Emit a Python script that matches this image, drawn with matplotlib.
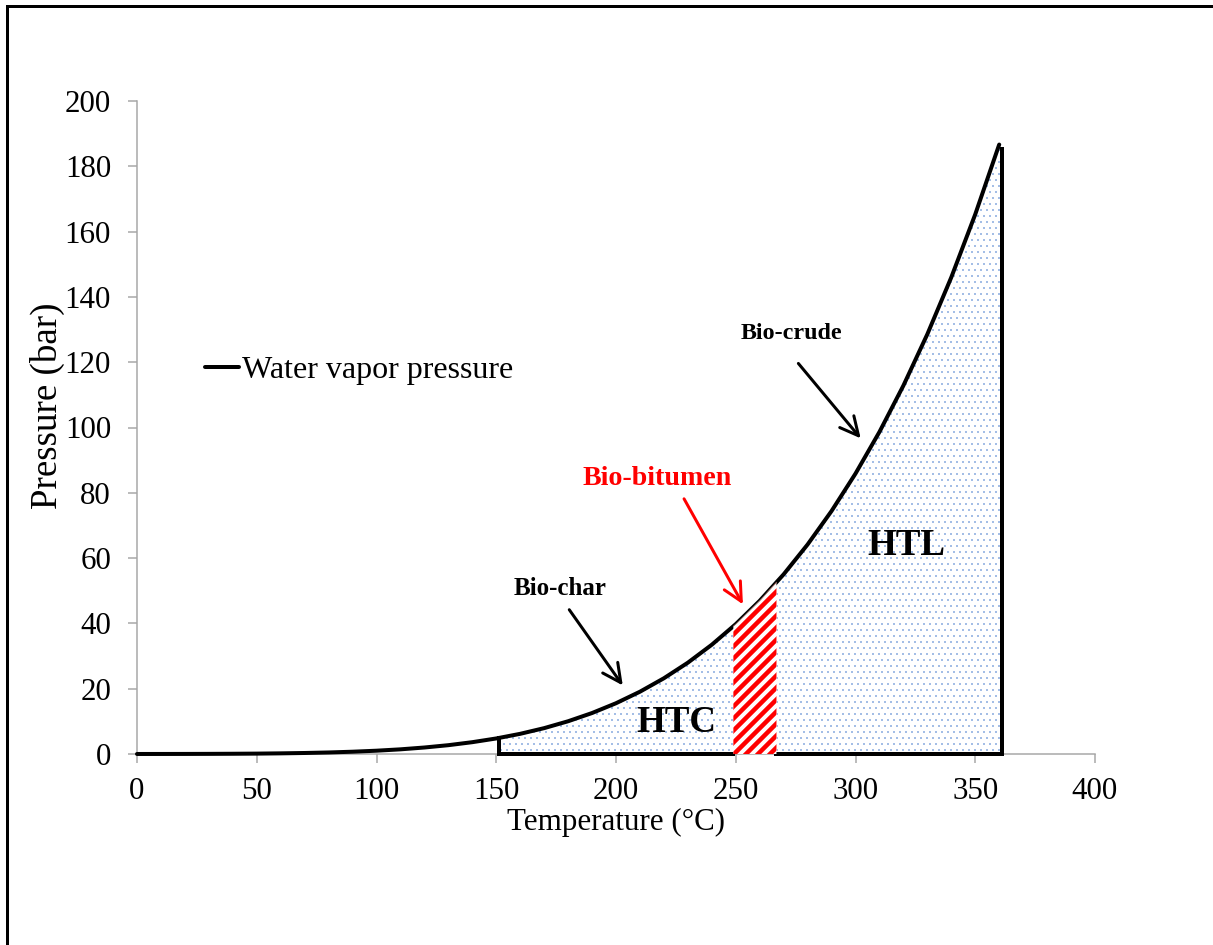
import numpy as np
import matplotlib
matplotlib.use("Agg")
import matplotlib.pyplot as plt
from matplotlib.patches import Rectangle

plt.rcParams['font.family'] = ['Liberation Serif', 'DejaVu Serif']

# saturation pressure of water (bar) vs temperature (C)
temp = [0, 10, 20, 30, 40, 50, 60, 70, 80, 90, 100, 110, 120, 130, 140, 150,
        160, 170, 180, 190, 200, 210, 220, 230, 240, 250, 260, 270, 280, 290,
        300, 310, 320, 330, 340, 350, 360]
pressure = [0.006, 0.012, 0.023, 0.042, 0.074, 0.12, 0.20, 0.31, 0.47, 0.70,
            1.01, 1.43, 1.99, 2.70, 3.62, 4.76, 6.18, 7.92, 10.03, 12.55,
            15.55, 19.08, 23.20, 27.97, 33.47, 39.76, 46.92, 55.03, 64.17,
            74.42, 85.88, 98.65, 112.84, 128.58, 146.00, 165.29, 186.66]

htc_range = (151, 249)
bitumen_range = (249, 267)
htl_range = (267, 361)

xticks = [0, 50, 100, 150, 200, 250, 300, 350, 400]
yticks = [0, 20, 40, 60, 80, 100, 120, 140, 160, 180, 200]

dot_color = '#6f98d8'
gray = '#a6a6a6'

fig = plt.figure(figsize=(1213 / 72, 945 / 72), dpi=72)
ax = fig.add_axes([137 / 1213, 1 - 754 / 945, 958 / 1213, 653 / 945])


def region(lo, hi, n=200):
    xs = np.linspace(lo, hi, n)
    return xs, np.interp(xs, temp, pressure)


def hatched(lo, hi, hatch, color, lw, z):
    xs, ys = region(lo, hi)
    with plt.rc_context({'hatch.linewidth': lw}):
        coll = ax.fill_between(xs, 0, ys, facecolor='white', edgecolor=color,
                               hatch=hatch, linewidth=0, zorder=z)
    if hasattr(coll, 'set_hatch_linewidth'):
        coll.set_hatch_linewidth(lw)
    return coll


hatched(*htc_range, '..', dot_color, 0.5, 1)
hatched(*htl_range, '..', dot_color, 0.5, 1)

# water vapour curve
ax.plot(temp, pressure, color='black', lw=4, clip_on=False, zorder=4,
        solid_capstyle='round', label='Water vapor pressure')

# bio-bitumen window drawn over the curve
hatched(*bitumen_range, '//', 'red', 4.5, 5)
xb, yb = region(*bitumen_range)
ax.plot(xb, yb, color='#9a6b62', lw=0.8, zorder=6)

# outline of the process windows
y_lo = np.interp(htc_range[0], temp, pressure)
y_hi = np.interp(htl_range[1], temp, pressure)
ax.plot([htc_range[0], htc_range[0]], [0, y_lo], color='black', lw=4, zorder=4)
ax.plot([htl_range[1], htl_range[1]], [0, y_hi - 1.5], color='black', lw=4, zorder=4)
ax.plot([htc_range[0], bitumen_range[0]], [0, 0], color='black', lw=4,
        clip_on=False, zorder=4)
ax.plot([bitumen_range[1], htl_range[1]], [0, 0], color='black', lw=4,
        clip_on=False, zorder=4)

ax.set_xlim(0, 400)
ax.set_ylim(0, 200)
ax.set_xticks(xticks)
ax.set_yticks(yticks)
for s in ['top', 'right']:
    ax.spines[s].set_visible(False)
for s in ['left', 'bottom']:
    ax.spines[s].set_color(gray)
    ax.spines[s].set_linewidth(1.5)
ax.tick_params(direction='out', length=9, width=1.5, color=gray,
               labelsize=31)
ax.tick_params(axis='y', pad=17)
ax.tick_params(axis='x', pad=14)

ax.text(-0.094, 0.534, 'Pressure (bar)', transform=ax.transAxes, rotation=90,
        ha='center', va='center', fontsize=37)
ax.text(0.5, -0.105, 'Temperature (°C)', transform=ax.transAxes,
        ha='center', va='center', fontsize=31)

# annotations
arrow = dict(arrowstyle='->', lw=3, color='black', mutation_scale=46)
ax.annotate('', xy=(203.3, 20.5), xytext=(180.0, 44.7), arrowprops=arrow, zorder=7)
ax.annotate('', xy=(302.7, 96.2), xytext=(275.6, 120.1), arrowprops=arrow, zorder=7)
ax.annotate('', xy=(253.4, 45.3), xytext=(228.0, 78.7),
            arrowprops=dict(arrow, color='red'), zorder=7)
ax.text(176.6, 50.8, 'Bio-char', ha='center', va='center', fontsize=25,
        fontweight='bold')
ax.text(273.1, 128.9, 'Bio-crude', ha='center', va='center', fontsize=24,
        fontweight='bold')
ax.text(217.1, 84.5, 'Bio-bitumen', ha='center', va='center', fontsize=28,
        fontweight='bold', color='red')
ax.text(225.1, 9.8, 'HTC', ha='center', va='center', fontsize=37,
        fontweight='bold', zorder=7)
ax.text(321.1, 64.0, 'HTL', ha='center', va='center', fontsize=37,
        fontweight='bold', zorder=7)

ax.legend(loc='center left', bbox_to_anchor=(0.071, 0.588), frameon=False,
          fontsize=32, handlelength=1.05, handletextpad=0.1, borderpad=0,
          borderaxespad=0)

fig.patches.append(Rectangle((7 / 1213, -0.1), 1.2, 1.1 - 6 / 945,
                             transform=fig.transFigure, fill=False, lw=3,
                             edgecolor='black'))

fig.savefig('out.png', dpi=72)
